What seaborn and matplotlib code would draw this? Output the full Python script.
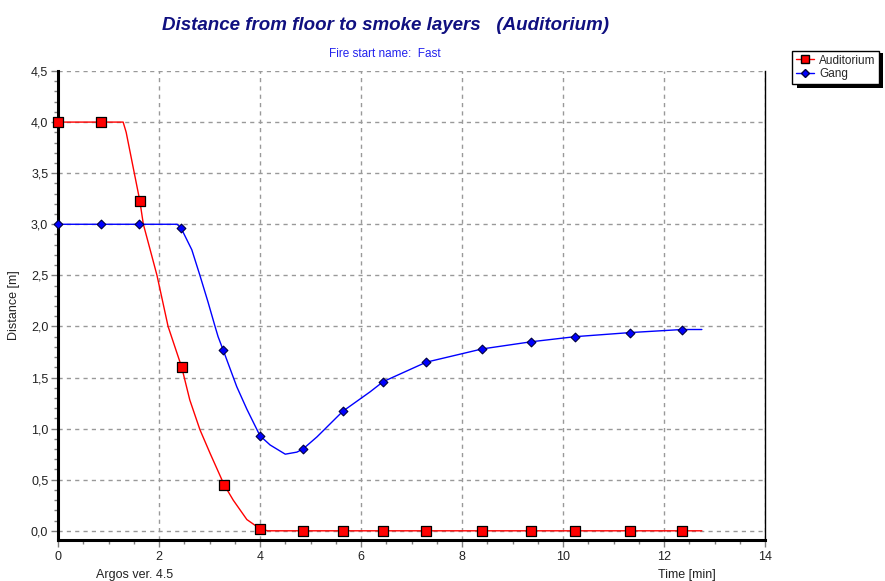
import matplotlib
matplotlib.use("Agg")
import matplotlib.pyplot as plt
from matplotlib.lines import Line2D
from matplotlib.ticker import MultipleLocator, FuncFormatter
import matplotlib.patches as mpatches
import seaborn as sns
import pandas as pd

# ---- data ----
aud_line_t = [0.0, 1.29, 1.35, 1.62, 1.69, 1.82, 1.96, 2.18, 2.45, 2.61, 2.81, 3.01, 3.29, 3.47, 3.74, 4.0, 4.15, 5.0, 8.0, 12.75]
aud_line_y = [4.0, 4.0, 3.9, 3.23, 3.0, 2.76, 2.5, 2.0, 1.6, 1.28, 0.99, 0.76, 0.45, 0.30, 0.11, 0.02, 0.0, 0.0, 0.0, 0.0]

gang_line_t = [0.0, 2.36, 2.44, 2.65, 2.81, 2.97, 3.11, 3.17, 3.27, 3.54, 3.74, 4.0, 4.2, 4.5, 4.73, 4.85, 5.13, 5.64,
               6.18, 6.44, 7.29, 8.4, 9.37, 10.24, 11.33, 12.36, 12.75]
gang_line_y = [3.0, 3.0, 2.96, 2.75, 2.5, 2.24, 2.0, 1.9, 1.77, 1.41, 1.19, 0.93, 0.84, 0.75, 0.77, 0.80, 0.92, 1.17,
               1.36, 1.46, 1.65, 1.78, 1.85, 1.90, 1.94, 1.97, 1.97]

aud_mark_t = [0.0, 0.85, 1.62, 2.45, 3.29, 4.0, 4.85, 5.64, 6.44, 7.29, 8.40, 9.37, 10.24, 11.33, 12.36]
aud_mark_y = [4.0, 4.0, 3.23, 1.60, 0.45, 0.02, 0.0, 0.0, 0.0, 0.0, 0.0, 0.0, 0.0, 0.0, 0.0]

gang_mark_t = [0.0, 0.85, 1.6, 2.44, 3.27, 4.0, 4.85, 5.64, 6.44, 7.29, 8.40, 9.37, 10.24, 11.33, 12.36]
gang_mark_y = [3.0, 3.0, 3.0, 2.96, 1.77, 0.93, 0.80, 1.17, 1.46, 1.65, 1.78, 1.85, 1.90, 1.94, 1.97]

series_names = ["Auditorium", "Gang"]
title_text = "Distance from floor to smoke layers   (Auditorium)"
subtitle_text = "Fire start name:  Fast"

sns.set_theme(style="white")
plt.rcParams['font.family'] = ['Liberation Sans', 'DejaVu Sans']

fig = plt.figure(figsize=(8.85, 5.81), dpi=100)
ax = fig.add_axes([58/885, 1 - 540/581, (765 - 58)/885, (540 - 71)/581])

red = "#ff0000"
blue = "#0000ff"

df_al = pd.DataFrame({"t": aud_line_t, "y": aud_line_y})
df_gl = pd.DataFrame({"t": gang_line_t, "y": gang_line_y})
df_am = pd.DataFrame({"t": aud_mark_t, "y": aud_mark_y})
df_gm = pd.DataFrame({"t": gang_mark_t, "y": gang_mark_y})

sns.lineplot(data=df_al, x="t", y="y", ax=ax, color=red, lw=1.0, sort=False, zorder=3)
sns.lineplot(data=df_gl, x="t", y="y", ax=ax, color=blue, lw=1.0, sort=False, zorder=3)
sns.scatterplot(data=df_am, x="t", y="y", ax=ax, marker="s", s=46, color=red, edgecolor="black",
                linewidth=0.9, zorder=4, clip_on=False)
sns.scatterplot(data=df_gm, x="t", y="y", ax=ax, marker="D", s=20, color=blue, edgecolor="#000040",
                linewidth=0.8, zorder=4, clip_on=False)

ax.set_xlim(0, 14)
ax.set_ylim(-0.09, 4.5)
ax.xaxis.set_major_locator(MultipleLocator(2))
ax.xaxis.set_minor_locator(MultipleLocator(0.5))
ax.yaxis.set_major_locator(MultipleLocator(0.5))
ax.yaxis.set_minor_locator(MultipleLocator(0.1))
ax.yaxis.set_major_formatter(FuncFormatter(lambda v, p: f"{v:.1f}".replace(".", ",")))
ax.xaxis.set_major_formatter(FuncFormatter(lambda v, p: f"{v:.0f}"))

ax.grid(True, which="major", color="#999999", linestyle=(0, (3, 3)), linewidth=1.0)
ax.set_axisbelow(True)
ax.tick_params(axis="both", which="both", direction="out", colors="#808080", labelcolor="#222222",
               labelsize=9)
ax.tick_params(which="major", length=5, width=1)
ax.tick_params(which="minor", length=3, width=1)
ax.tick_params(axis="x", which="both", bottom=True, pad=3)
ax.tick_params(axis="y", which="both", left=True, pad=2)

for side in ["left", "bottom"]:
    ax.spines[side].set_linewidth(2.2)
    ax.spines[side].set_color("black")
ax.spines["right"].set_linewidth(1.0)
ax.spines["right"].set_color("black")
ax.spines["top"].set_visible(False)

ax.set_xlabel("")
ax.set_ylabel("Distance [m]", fontsize=9, color="#222222", labelpad=8)

fig.text(386/885, 1 - 25/581, title_text, ha="center", va="center", fontsize=13.5,
         fontweight="bold", fontstyle="italic", color="#101080")
fig.text(385/885, 1 - 54/581, subtitle_text, ha="center", va="center", fontsize=8.5, color="#2222ee")
fig.text(135/885, 1 - 575/581, "Argos ver. 4.5", ha="center", va="center", fontsize=9, color="#222222")
fig.text(716/885, 1 - 575/581, "Time [min]", ha="right", va="center", fontsize=9, color="#222222")

handles = [Line2D([], [], color=red, marker="s", markersize=6, markerfacecolor=red,
                  markeredgecolor="black", lw=1.0),
           Line2D([], [], color=blue, marker="D", markersize=4.5, markerfacecolor=blue,
                  markeredgecolor="#000040", lw=1.0)]
# legend shadow box
fig.patches.append(mpatches.Rectangle((797/885, 1 - 88/581), 86/885, 35/581, transform=fig.transFigure,
                                      facecolor="black", edgecolor="none", zorder=1))
leg = fig.legend(handles, series_names, loc="upper left", bbox_to_anchor=(792/885, 1 - 51/581),
                 frameon=True, fontsize=8.5, handlelength=1.6, handletextpad=0.4, borderpad=0.3,
                 labelspacing=0.15, fancybox=False, borderaxespad=0)
leg.get_frame().set_edgecolor("black")
leg.get_frame().set_linewidth(1.0)
leg.get_frame().set_facecolor("white")
leg.get_frame().set_alpha(1)
leg.set_zorder(5)

fig.savefig("out.png", dpi=100)
